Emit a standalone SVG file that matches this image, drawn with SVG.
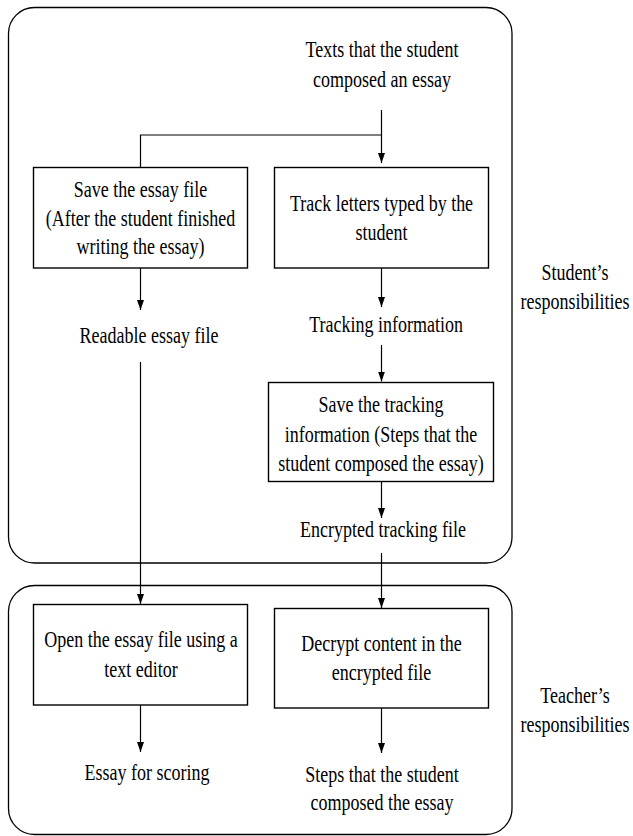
<svg xmlns="http://www.w3.org/2000/svg" width="633" height="836" viewBox="0 0 633 836">
<style>
text{font-family:"Liberation Serif","Times New Roman",serif;font-size:24px;fill:#000;text-anchor:middle}
.frame{fill:none;stroke:#000;stroke-width:1.3}
.box{fill:#fff;stroke:#000;stroke-width:1.4}
.con path{fill:none;stroke:#000;stroke-width:1.2}
</style>
<defs>
<marker id="ah" markerUnits="userSpaceOnUse" markerWidth="10" markerHeight="8" refX="10" refY="3.5" orient="auto">
<path d="M0,0 L10,3.5 L0,7 z" fill="#000"/>
</marker>
</defs>
<g id="student-area">
<rect class="frame" x="8.5" y="7.5" width="503.5" height="555.5" rx="26" ry="26"/>
<text transform="translate(575,280) scale(0.75,1)">Student’s<tspan x="0" y="29">responsibilities</tspan></text>
</g>
<g id="teacher-area">
<rect class="frame" x="8.5" y="585.5" width="503.5" height="249" rx="26" ry="26"/>
<text transform="translate(575,703) scale(0.75,1)">Teacher’s<tspan x="0" y="29">responsibilities</tspan></text>
</g>
<g class="con" id="connectors">
<path d="M381.5,110 V163" marker-end="url(#ah)"/>
<path d="M381.5,135 H140.5 V167.5"/>
<path d="M140.5,268 V310" marker-end="url(#ah)"/>
<path d="M381.5,268 V307" marker-end="url(#ah)"/>
<path d="M381.5,345 V381.5" marker-end="url(#ah)"/>
<path d="M381.5,481 V518" marker-end="url(#ah)"/>
<path d="M140.5,362 V604" marker-end="url(#ah)"/>
<path d="M381.5,553 V608" marker-end="url(#ah)"/>
<path d="M140.5,705 V752" marker-end="url(#ah)"/>
<path d="M381.5,708 V753" marker-end="url(#ah)"/>
</g>
<g id="n-texts">
<text transform="translate(382,57) scale(0.75,1)">Texts that the student<tspan x="0" y="30">composed an essay</tspan></text>
</g>
<g id="n-save-essay">
<rect class="box" x="33.5" y="167.5" width="214" height="100.5"/>
<text transform="translate(140.5,197) scale(0.75,1)">Save the essay file<tspan x="0" y="29">(After the student finished</tspan><tspan x="0" y="57">writing the essay)</tspan></text>
</g>
<g id="n-track">
<rect class="box" x="274.5" y="167.5" width="214" height="100.5"/>
<text transform="translate(381.5,211) scale(0.75,1)">Track letters typed by the<tspan x="0" y="29">student</tspan></text>
</g>
<g id="n-readable">
<text transform="translate(149,343) scale(0.75,1)">Readable essay file</text>
</g>
<g id="n-tracking-info">
<text transform="translate(386,332) scale(0.75,1)">Tracking information</text>
</g>
<g id="n-save-tracking">
<rect class="box" x="268.5" y="382.5" width="225" height="99"/>
<text transform="translate(381,412) scale(0.75,1)">Save the tracking<tspan x="0" y="30">information (Steps that the</tspan><tspan x="0" y="59">student composed the essay)</tspan></text>
</g>
<g id="n-encrypted">
<text transform="translate(383,537) scale(0.75,1)">Encrypted tracking file</text>
</g>
<g id="n-open">
<rect class="box" x="33.5" y="604.5" width="214" height="100.5"/>
<text transform="translate(141,647) scale(0.75,1)">Open the essay file using a<tspan x="0" y="30">text editor</tspan></text>
</g>
<g id="n-decrypt">
<rect class="box" x="274.5" y="608.5" width="214" height="99.5"/>
<text transform="translate(381.5,651) scale(0.75,1)">Decrypt content in the<tspan x="0" y="29">encrypted file</tspan></text>
</g>
<g id="n-scoring">
<text transform="translate(147,780) scale(0.75,1)">Essay for scoring</text>
</g>
<g id="n-steps">
<text transform="translate(382,782) scale(0.75,1)">Steps that the student<tspan x="0" y="28">composed the essay</tspan></text>
</g>
</svg>
